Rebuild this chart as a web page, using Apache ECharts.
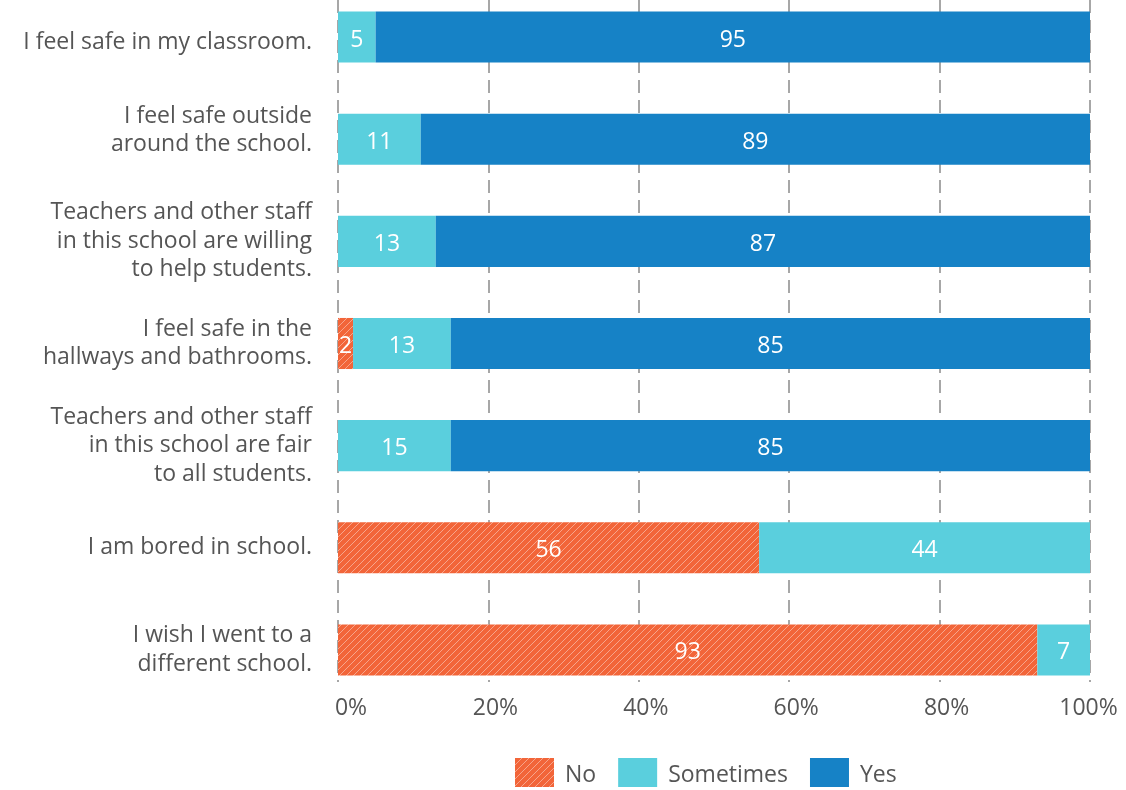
<!DOCTYPE html>
<html><head><meta charset="utf-8">
<script src="https://cdn.jsdelivr.net/npm/echarts@6/dist/echarts.min.js"></script>
<style>html,body{margin:0;padding:0;background:#fff;overflow:hidden;width:1126px;height:790px}#c{position:absolute;left:0;top:-14px;width:1126px;height:804px}</style>
</head><body><div id="c"></div>
<script>
const categories = [
  "I feel safe in my classroom.",
  "I feel safe outside\naround the school.",
  "Teachers and other staff\nin this school are willing\nto help students.",
  "I feel safe in the\nhallways and bathrooms.",
  "Teachers and other staff\nin this school are fair\nto all students.",
  "I am bored in school.",
  "I wish I went to a\ndifferent school."
];
const noValues = [0, 0, 0, 2, 0, 56, 93];
const sometimesValues = [5, 11, 13, 13, 15, 44, 7];
const yesValues = [95, 89, 87, 85, 85, 0, 0];
const xTicks = [0, 20, 40, 60, 80, 100];

const FONT = "Open Sans";
const TEXT = "#555555";

// small per-label vertical nudges in px (style only): + moves down, - moves up
const labelNudge = [5, -9, 0, 0, 0, 0, 0];

function hatch(base) {
  const n = 7;
  const c = document.createElement('canvas');
  c.width = n; c.height = n;
  const g = c.getContext('2d');
  g.fillStyle = base; g.fillRect(0, 0, n, n);
  g.strokeStyle = 'rgba(255,255,255,0.42)';
  g.lineWidth = 1;
  g.beginPath();
  g.moveTo(-1, n + 1); g.lineTo(n + 1, -1);
  g.moveTo(-1, 1); g.lineTo(1, -1);
  g.moveTo(n - 1, n + 1); g.lineTo(n + 1, n - 1);
  g.stroke();
  return { image: c, repeat: 'repeat' };
}

const chart = echarts.init(document.getElementById('c'), null, { renderer: 'canvas' });
const lbl = {
  show: true, position: 'inside', color: '#ffffff', fontFamily: FONT, fontSize: 23, offset: [0, 3],
  formatter: p => (p.value ? String(p.value) : '')
};
const tickRich = {
  a: { fontSize: 23, color: TEXT, fontFamily: FONT, padding: [0, 0, 0, 14] },
  z: { fontSize: 23, color: TEXT, fontFamily: FONT, padding: [0, 0, 0, 26] },
  h: { fontSize: 23, color: TEXT, fontFamily: FONT, padding: [0, 3, 0, 0] }
};
const yRich = {};
labelNudge.forEach(v => {
  if (v) yRich['s' + Math.abs(v)] = { fontSize: 1, lineHeight: Math.abs(v) * 2, color: 'rgba(0,0,0,0)' };
});
function yLabel(value, index) {
  const v = labelNudge[index] || 0;
  if (v > 0) return '{s' + v + '| }\n' + value;
  if (v < 0) return value + '\n{s' + (-v) + '| }';
  return value;
}

chart.setOption({
  animation: false,
  textStyle: { fontFamily: FONT },
  legend: {
    data: ['No', 'Sometimes', 'Yes'],
    top: 772, left: 515, padding: 0,
    itemWidth: 39, itemHeight: 29, itemGap: 22,
    icon: 'rect',
    formatter: name => '{t|' + name + '}',
    textStyle: { fontSize: 23, color: TEXT, fontFamily: FONT,
      rich: { t: { fontSize: 23, color: TEXT, fontFamily: FONT, padding: [5, 0, 0, 6] } } }
  },
  grid: [
    { left: 338, right: 36, top: 0, height: 715, containLabel: false },
    { left: 338, right: 36, top: 14, height: 682, containLabel: false }
  ],
  xAxis: [
    { gridIndex: 0, type: 'value', min: 0, max: 100, show: false },
    {
      gridIndex: 1, type: 'value', min: 0, max: 100, interval: 20,
      axisLine: { show: false }, axisTick: { show: false },
      splitLine: { show: true, lineStyle: { color: '#8a8a8a', width: 1.5, type: [13, 7] } },
      axisLabel: {
        formatter: v => !xTicks.includes(v) ? '' : v === 0 ? '{z|' + v + '%}' : v === 100 ? '{h|' + v + '%}' : '{a|' + v + '%}',
        rich: tickRich, color: TEXT, fontSize: 23, fontFamily: FONT, margin: 15
      }
    }
  ],
  yAxis: [
    {
      gridIndex: 0, type: 'category', data: categories, inverse: true,
      axisLine: { show: false }, axisTick: { show: false }, splitLine: { show: false },
      axisLabel: { color: TEXT, fontSize: 23, fontFamily: FONT, margin: 26, lineHeight: 28.5, align: 'right',
        formatter: yLabel, rich: yRich }
    },
    { gridIndex: 1, type: 'value', show: false }
  ],
  series: [
    { name: 'No', type: 'bar', stack: 's', xAxisIndex: 0, yAxisIndex: 0, data: noValues,
      barWidth: '50%', itemStyle: { color: hatch('#F26539') }, label: lbl },
    { name: 'Sometimes', type: 'bar', stack: 's', xAxisIndex: 0, yAxisIndex: 0, data: sometimesValues,
      barWidth: '50%', itemStyle: { color: '#5ACFDD' }, label: lbl },
    { name: 'Yes', type: 'bar', stack: 's', xAxisIndex: 0, yAxisIndex: 0, data: yesValues,
      barWidth: '50%', itemStyle: { color: '#1682C6' }, label: lbl }
  ]
});
</script></body></html>
